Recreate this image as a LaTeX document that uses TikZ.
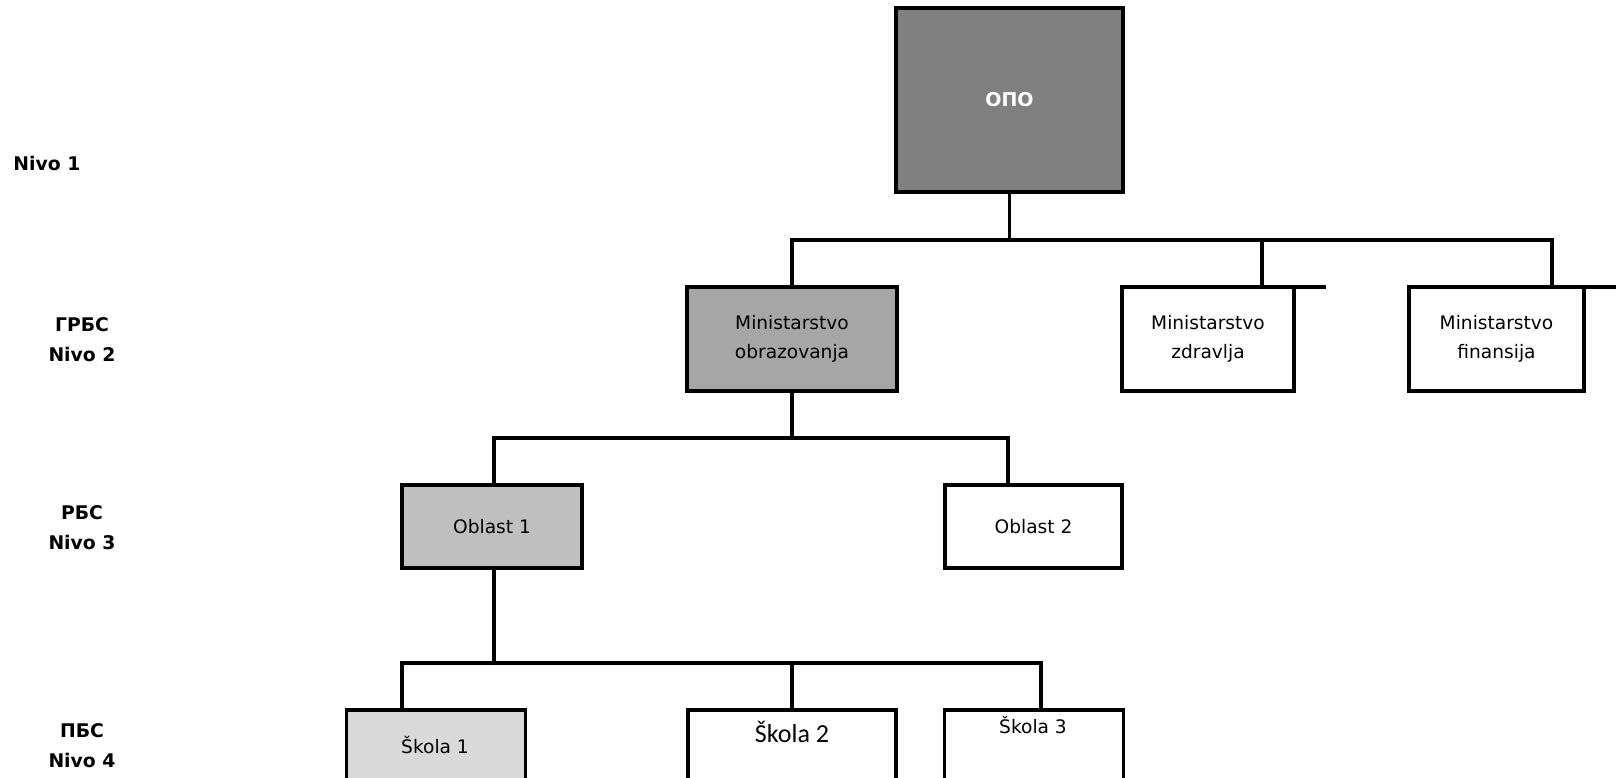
\documentclass[tikz,border=0pt]{standalone}
\usepackage{fontspec}
\setmainfont{DejaVu Sans}
\newfontfamily\calibri{Carlito}
\definecolor{opogray}{HTML}{808080}
\definecolor{ministry}{HTML}{A6A6A6}
\definecolor{region}{HTML}{BFBFBF}
\definecolor{school}{HTML}{D9D9D9}
\tikzstyle{box} = [rectangle, draw=black, line width=1.6pt, inner sep=0pt, outer sep=0pt, align=center, font=\fontsize{9.3}{14.5}\selectfont]
\tikzstyle{level} = [align=center, inner sep=0pt, font=\fontsize{9.4}{15}\selectfont\bfseries]
\tikzstyle{link} = [line width=1.6pt]
\tikzset{size/.style 2 args={minimum width=#1*0.5pt, minimum height=#2*0.5pt}}
\newcommand{\sk}[1]{\fontsize{9.3}{14.5}\selectfont #1}

\begin{document}
\begin{tikzpicture}[x=0.5pt, y=-0.5pt]
			\useasboundingbox (0,0) rectangle (1616,777);
			\clip (0,0) rectangle (1616,777);
			\fill[white] (0,0) rectangle (1616,777);
			% levels
			\node [level, anchor=west] (n1) at (13,163) {Nivo 1};
			\node [level] (n2) at (82,340) {ГРБС\\Nivo 2};
			\node [level] (n3) at (82,528) {РБС\\Nivo 3};
			\node [level] (n4) at (82,746) {ПБС\\Nivo 4};
			% boxes
			\node [box, size={227}{184}, fill=opogray, text=white, font=\fontsize{9.5}{12}\selectfont\bfseries] (opo) at (1009.5,100) {ОПО};
			\node [box, size={210}{104}, fill=ministry] (mobr) at (792,339) {Ministarstvo\\obrazovanja};
			\node [box, size={172}{104}, fill=white] (mzdr) at (1208,339) {Ministarstvo\\zdravlja};
			\node [box, size={175}{104}, fill=white] (mfin) at (1496.5,339) {Ministarstvo\\finansija};
			\node [box, size={180}{83}, fill=region] (obl1) at (492,526.5) {Oblast 1};
			\node [box, size={177}{83}, fill=white] (obl2) at (1033.5,526.5) {Oblast 2};
			\node [box, size={179}{104}, fill=school] (sk1) at (436,762) {};
			\node [box, size={208}{104}, fill=white] (sk2) at (792,762) {};
			\node [box, size={179}{104}, fill=white] (sk3) at (1034,762) {};
			\node (sk1t) at (435,745) {\sk{Škola 1}};
			\node (sk2t) at (792,732) {\calibri\fontsize{13}{15}\selectfont Škola 2};
			\node (sk3t) at (1033,725) {\sk{Škola 3}};
			% links
			\coordinate (b1m) at (1262,240);
			\coordinate (b1r) at (1552,240);
			\draw[link] (opo.south) -- (opo.south |- b1r);
			\draw[link] (mobr.north) |- (b1r) -- (b1r |- mfin.north);
			\draw[link] (b1m) -- (b1m |- mzdr.north);
			\draw[link] (mzdr.north east) -- ++(32,0);
			\draw[link] (mfin.north east) -- ++(40,0);
			\coordinate (b2l) at (494,438);
			\coordinate (b2r) at (1008,438);
			\draw[link] (mobr.south) -- (mobr.south |- b2l);
			\draw[link] (b2l |- obl1.north) -- (b2l) -- (b2r) -- (b2r |- obl2.north);
			\coordinate (b3) at (494,663);
			\coordinate (b3l) at (402,663);
			\coordinate (b3r) at (1041,663);
			\draw[link] (b3 |- obl1.south) -- (b3);
			\draw[link] (b3l |- sk1.north) -- (b3l) -- (b3r) -- (b3r |- sk3.north);
			\draw[link] (sk2.north) -- (sk2.north |- b3l);
		\end{tikzpicture}
\end{document}
